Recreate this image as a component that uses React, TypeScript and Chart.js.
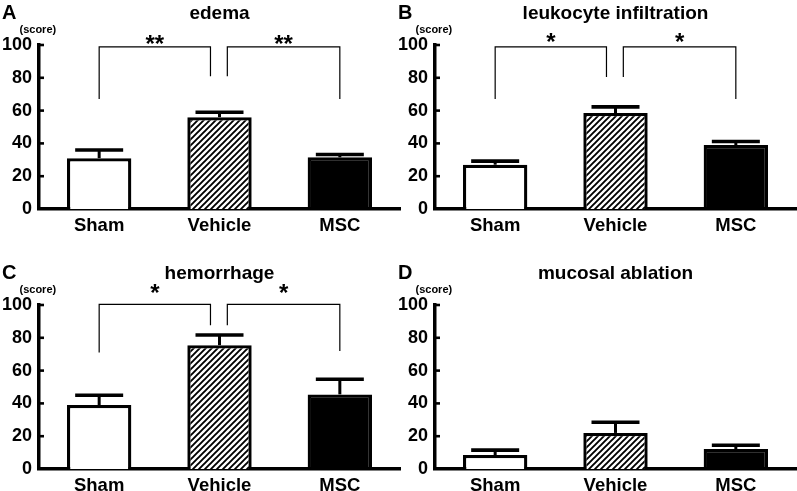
import React, { useEffect, useRef } from 'react';
import { Chart, registerables } from 'chart.js';

Chart.register(...registerables);

// ---------------- data ----------------
const groups = ['Sham', 'Vehicle', 'MSC'];
const yTickValues = [0, 20, 40, 60, 80, 100];

const panelLetters = ['A', 'B', 'C', 'D'];
const panelTitles = ['edema', 'leukocyte infiltration', 'hemorrhage', 'mucosal ablation'];
const yUnitLabel = '(score)';

const edemaMean = [31, 56, 31.5];
const edemaSem = [5, 3, 1.7];
const leukocyteMean = [27, 58.5, 39];
const leukocyteSem = [2.2, 3.8, 2.2];
const hemorrhageMean = [39, 75.5, 45.5];
const hemorrhageSem = [6, 6.2, 9.2];
const mucosalMean = [8.5, 22, 12.2];
const mucosalSem = [3, 6.5, 2.3];

// significance brackets: [group a, group b], bracket top, lower end at a, lower end at b, label, label height
type Bracket = { pair: [number, number]; top: number; endA: number; endB: number; label: string; labelY: number };
const edemaBrackets: Bracket[] = [
  { pair: [0, 1], top: 98.8, endA: 67, endB: 81, label: '**', labelY: 103.2 },
  { pair: [1, 2], top: 98.8, endA: 81, endB: 67, label: '**', labelY: 103.2 },
];
const leukocyteBrackets: Bracket[] = [
  { pair: [0, 1], top: 98.8, endA: 67, endB: 80.5, label: '*', labelY: 104.4 },
  { pair: [1, 2], top: 98.8, endA: 80.5, endB: 67, label: '*', labelY: 104.4 },
];
const hemorrhageBrackets: Bracket[] = [
  { pair: [0, 1], top: 100.4, endA: 71, endB: 87.6, label: '*', labelY: 110 },
  { pair: [1, 2], top: 100.4, endA: 87.6, endB: 72, label: '*', labelY: 110 },
];
const mucosalBrackets: Bracket[] = [];

// ---------------- styles ----------------
const FONT = '"Liberation Sans", Arial, sans-serif';
const INK = '#000';

function makeHatch(): CanvasPattern | string {
  const p = 6;
  const c = document.createElement('canvas');
  c.width = p;
  c.height = p;
  const g = c.getContext('2d');
  if (!g) return '#888';
  g.fillStyle = '#fff';
  g.fillRect(0, 0, p, p);
  g.strokeStyle = '#000';
  g.lineWidth = 1.9;
  g.beginPath();
  g.moveTo(-1, p + 1);
  g.lineTo(p + 1, -1);
  g.moveTo(-1, 1);
  g.lineTo(1, -1);
  g.moveTo(p - 1, p + 1);
  g.lineTo(p + 1, p - 1);
  g.stroke();
  const pat = g.createPattern(c, 'repeat');
  return pat || '#888';
}

type PanelProps = {
  letter: string;
  title: string;
  means: number[];
  sems: number[];
  brackets: Bracket[];
  left: number;
  top: number;
  width: number;
  height: number;
};

function Panel({ letter, title, means, sems, brackets, left, top, width, height }: PanelProps) {
  const ref = useRef<HTMLCanvasElement | null>(null);

  useEffect(() => {
    const canvas = ref.current;
    if (!canvas) return;
    const hatch = makeHatch();

    const overlay = {
      id: 'overlay-' + letter,
      afterDraw(chart: any) {
        const ctx: CanvasRenderingContext2D = chart.ctx;
        const xs = chart.scales.x;
        const ys = chart.scales.y;
        const area = chart.chartArea;
        ctx.save();

        // inward y tick marks
        ctx.strokeStyle = INK;
        ctx.lineWidth = 2.6;
        yTickValues.forEach((v) => {
          if (v === 0) return;
          const y = ys.getPixelForValue(v);
          ctx.beginPath();
          ctx.moveTo(area.left, y);
          ctx.lineTo(area.left + 5, y);
          ctx.stroke();
        });

        // error bars (upper only)
        const meta = chart.getDatasetMeta(0);
        meta.data.forEach((bar: any, i: number) => {
          const cx = bar.x;
          const yTop = ys.getPixelForValue(means[i]);
          const yErr = ys.getPixelForValue(means[i] + sems[i]);
          ctx.lineWidth = 3;
          ctx.beginPath();
          ctx.moveTo(cx, yTop);
          ctx.lineTo(cx, yErr);
          ctx.stroke();
          ctx.lineWidth = 3.6;
          ctx.beginPath();
          ctx.moveTo(cx - 24, yErr);
          ctx.lineTo(cx + 24, yErr);
          ctx.stroke();
        });

        // significance brackets
        const inset = 0.065;
        brackets.forEach((b) => {
          const a = b.pair[0] === 1 ? b.pair[0] + inset : b.pair[0];
          const c = b.pair[1] === 1 ? b.pair[1] - inset - 0.01 : b.pair[1];
          const xa = xs.getPixelForValue(a);
          const xb = xs.getPixelForValue(c);
          const yt = ys.getPixelForValue(b.top);
          ctx.lineWidth = 1.2;
          ctx.beginPath();
          ctx.moveTo(xa, ys.getPixelForValue(b.endA));
          ctx.lineTo(xa, yt);
          ctx.lineTo(xb, yt);
          ctx.lineTo(xb, ys.getPixelForValue(b.endB));
          ctx.stroke();
          ctx.fillStyle = INK;
          ctx.font = 'bold 24px ' + FONT;
          ctx.textAlign = 'center';
          ctx.textBaseline = 'alphabetic';
          ctx.fillText(b.label, (xa + xb) / 2, ys.getPixelForValue(b.labelY) + 12);
        });

        // title, panel letter, unit label
        ctx.fillStyle = INK;
        ctx.textBaseline = 'alphabetic';
        ctx.textAlign = 'center';
        ctx.font = 'bold 19px ' + FONT;
        ctx.fillText(title, (area.left + area.right) / 2, 19);
        ctx.textAlign = 'left';
        ctx.font = 'bold 20px ' + FONT;
        ctx.fillText(letter, 2, 18.5);
        ctx.font = 'bold 11px ' + FONT;
        ctx.fillText(yUnitLabel, 19.5, 32.5);
        ctx.restore();
      },
    };

    const chart = new Chart(canvas, {
      type: 'bar',
      data: {
        labels: groups,
        datasets: [
          {
            data: means,
            backgroundColor: ['#ffffff', hatch as any, '#000000'],
            borderColor: INK,
            borderWidth: 3.3,
            borderSkipped: 'start',
            categoryPercentage: 1,
            barPercentage: 0.535,
          },
        ],
      },
      options: {
        responsive: false,
        animation: false,
        events: [],
        layout: { padding: { left: 0, right: 1, top: 45, bottom: 0 } },
        plugins: {
          legend: { display: false },
          tooltip: { enabled: false },
          title: { display: false },
        },
        scales: {
          x: {
            grid: { display: false, drawTicks: false },
            border: { display: true, width: 3.5, color: INK },
            ticks: {
              color: INK,
              font: { family: FONT, size: 18.5, weight: 'bold' },
              padding: 6,
              maxRotation: 0,
              autoSkip: false,
            },
            afterFit: (s: any) => {
              s.height = height - 209;
            },
          },
          y: {
            min: 0,
            max: 100,
            grid: { display: false, drawTicks: false },
            border: { display: true, width: 3.5, color: INK },
            ticks: {
              color: INK,
              font: { family: FONT, size: 18, weight: 'bold' },
              padding: 7,
              stepSize: 20,
            },
            afterBuildTicks: (s: any) => {
              s.ticks = yTickValues.map((v) => ({ value: v }));
            },
            afterFit: (s: any) => {
              s.width = 39;
            },
          },
        },
      } as any,
      plugins: [overlay],
    });
    return () => chart.destroy();
  }, [letter, title, means, sems, brackets, height]);

  return (
    <canvas
      ref={ref}
      width={width}
      height={height}
      style={{ position: 'absolute', left, top, width, height, display: 'block' }}
    />
  );
}

export default function App() {
  return (
    <div
      style={{
        position: 'fixed',
        left: 0,
        top: 0,
        width: 797,
        height: 491,
        background: '#fff',
        overflow: 'hidden',
      }}
    >
      <Panel letter={panelLetters[0]} title={panelTitles[0]} means={edemaMean} sems={edemaSem} brackets={edemaBrackets} left={0} top={0} width={401} height={245} />
      <Panel letter={panelLetters[1]} title={panelTitles[1]} means={leukocyteMean} sems={leukocyteSem} brackets={leukocyteBrackets} left={396} top={0} width={401} height={245} />
      <Panel letter={panelLetters[2]} title={panelTitles[2]} means={hemorrhageMean} sems={hemorrhageSem} brackets={hemorrhageBrackets} left={0} top={260} width={401} height={231} />
      <Panel letter={panelLetters[3]} title={panelTitles[3]} means={mucosalMean} sems={mucosalSem} brackets={mucosalBrackets} left={396} top={260} width={401} height={231} />
    </div>
  );
}
